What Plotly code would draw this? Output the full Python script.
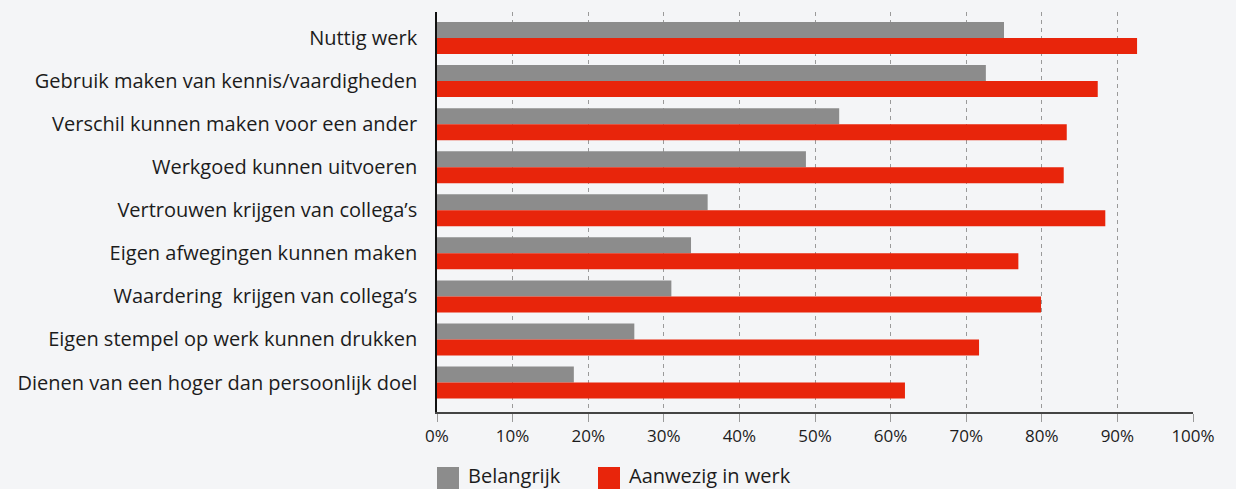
import plotly.graph_objects as go

categories = [
    "Nuttig werk",
    "Gebruik maken van kennis/vaardigheden",
    "Verschil kunnen maken voor een ander",
    "Werkgoed kunnen uitvoeren",
    "Vertrouwen krijgen van collega’s",
    "Eigen afwegingen kunnen maken",
    "Waardering\u00a0 krijgen van collega’s",
    "Eigen stempel op werk kunnen drukken",
    "Dienen van een hoger dan persoonlijk doel",
]
belangrijk = [75.0, 72.6, 53.2, 48.8, 35.8, 33.6, 31.0, 26.1, 18.1]
aanwezig = [92.6, 87.4, 83.3, 82.9, 88.4, 76.9, 79.9, 71.7, 61.9]
series_names = ["Belangrijk", "Aanwezig in werk"]
tick_vals = [0, 10, 20, 30, 40, 50, 60, 70, 80, 90, 100]
tick_text = [f"{v}%" for v in tick_vals]

GRAY = "#8c8c8c"
RED = "#e8250b"
BG = "#f4f5f7"
TXT = "#1c1c1c"
FONT = "Open Sans"

fig = go.Figure()
fig.add_trace(go.Bar(y=categories, x=belangrijk, orientation="h", name=series_names[0],
                     marker=dict(color=GRAY, line=dict(width=0)), showlegend=False))
fig.add_trace(go.Bar(y=categories, x=aanwezig, orientation="h", name=series_names[1],
                     marker=dict(color=RED, line=dict(width=0)), showlegend=False))

fig.update_layout(
    width=1236, height=489,
    margin=dict(l=437, r=43, t=12, b=77),
    paper_bgcolor=BG, plot_bgcolor=BG,
    barmode="group", bargap=0.257, bargroupgap=0,
    font=dict(family=FONT, size=18, color=TXT),
    xaxis=dict(range=[0, 100], tickvals=tick_vals, ticktext=tick_text,
               showgrid=True, gridcolor="#9a9a9a", griddash="4px,4px", gridwidth=1,
               zeroline=False, showline=True, linecolor="#444444", linewidth=2,
               ticks="outside", ticklen=8, tickcolor="#9a9a9a", tickwidth=1,
               tickfont=dict(size=17, color=TXT)),
    yaxis=dict(type="category", range=[8.685, -0.604], showgrid=False, zeroline=False,
               showline=True, linecolor="#111111", linewidth=1.5, ticks="",
               ticklabelstandoff=14, tickfont=dict(size=20, color=TXT)),
)

# legend drawn manually
legend_items = [(series_names[0], GRAY, 0.0), (series_names[1], RED, (598 - 437) / 756)]
for name, col, x0 in legend_items:
    fig.add_shape(type="rect", xref="paper", yref="paper",
                  x0=x0, x1=x0 + 22 / 756, y0=(412 - 467) / 400, y1=(412 - 492) / 400,
                  fillcolor=col, line=dict(width=0))
    fig.add_annotation(xref="paper", yref="paper", x=x0 + 29 / 756, y=(412 - 476) / 400,
                       text=name, showarrow=False, xanchor="left", yanchor="middle",
                       font=dict(family=FONT, size=20, color=TXT))

fig.write_html(
    "out.html",
    config={"displayModeBar": False},
    post_script="document.body.style.margin='0';document.body.style.background='#f4f5f7';",
)
